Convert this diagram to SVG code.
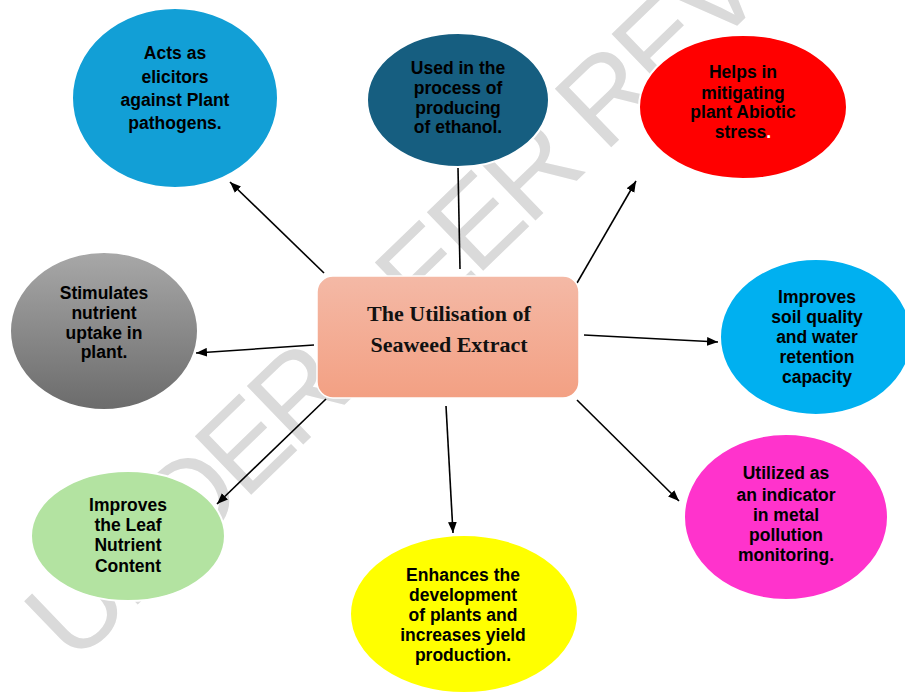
<svg xmlns="http://www.w3.org/2000/svg" width="905" height="694" viewBox="0 0 905 694">
<defs>
<linearGradient id="gBox" x1="0" y1="0" x2="0" y2="1">
<stop offset="0" stop-color="#F4B9A6"/>
<stop offset="1" stop-color="#F3A083"/>
</linearGradient>
<linearGradient id="gGray" x1="0" y1="0" x2="0" y2="1">
<stop offset="0" stop-color="#A8A8A8"/>
<stop offset="1" stop-color="#6B6B6B"/>
</linearGradient>
<marker id="arr" viewBox="0 0 10 8" refX="10" refY="4" markerWidth="11" markerHeight="9" markerUnits="userSpaceOnUse" orient="auto">
<path d="M0,0 L10,4 L0,8 z" fill="#000"/>
</marker>
</defs>
<style>
.node ellipse{stroke:#fff;stroke-width:2}
.lbl{font-family:"Liberation Sans",Arial,sans-serif;font-weight:bold;font-size:17.5px;fill:#000;text-anchor:middle}
.title{font-family:"Liberation Serif","Times New Roman",serif;font-weight:bold;font-size:22px;fill:#111;text-anchor:middle}
.wm{font-family:"Liberation Sans",Arial,sans-serif;font-size:118px;fill:#DADADA}
#connectors line{stroke:#000;stroke-width:1.6}
</style>
<rect width="905" height="694" fill="#fff"/>
<text class="wm" transform="translate(74,666) rotate(-44)" textLength="1171" lengthAdjust="spacing">UNDER PEER REVIEW</text>

<g id="connectors">
<line x1="324" y1="273" x2="230" y2="182" marker-end="url(#arr)"/>
<line x1="458" y1="168" x2="460" y2="269"/>
<line x1="577" y1="283" x2="636" y2="181" marker-end="url(#arr)"/>
<line x1="584" y1="335" x2="718" y2="342" marker-end="url(#arr)"/>
<line x1="314" y1="345" x2="196" y2="353" marker-end="url(#arr)"/>
<line x1="326" y1="399" x2="217" y2="504" marker-end="url(#arr)"/>
<line x1="446" y1="406" x2="453" y2="533" marker-end="url(#arr)"/>
<line x1="577" y1="400" x2="679" y2="501" marker-end="url(#arr)"/>
</g>

<g id="center">
<rect x="317" y="276" width="262" height="122" rx="16" fill="url(#gBox)" stroke="#fff" stroke-width="1.5"/>
<text class="title" x="449" y="321">The Utilisation of</text>
<text class="title" x="449" y="352">Seaweed Extract</text>
</g>

<g id="n-elicitors" class="node">
<ellipse cx="175" cy="98" rx="103" ry="90" fill="#129FD6"/>
<text class="lbl" x="175" y="59">Acts as</text>
<text class="lbl" x="175" y="83">elicitors</text>
<text class="lbl" x="175" y="106">against Plant</text>
<text class="lbl" x="175" y="129">pathogens.</text>
</g>

<g id="n-ethanol" class="node">
<ellipse cx="458" cy="100" rx="91" ry="67" fill="#165E80"/>
<text class="lbl" x="458" y="74">Used in the</text>
<text class="lbl" x="458" y="94">process of</text>
<text class="lbl" x="458" y="114">producing</text>
<text class="lbl" x="458" y="133">of ethanol.</text>
</g>

<g id="n-abiotic" class="node">
<ellipse cx="743" cy="107" rx="104" ry="72" fill="#FF0000"/>
<text class="lbl" x="743" y="78">Helps in</text>
<text class="lbl" x="743" y="99">mitigating</text>
<text class="lbl" x="743" y="118">plant Abiotic</text>
<text class="lbl" x="743" y="138">stress<tspan fill="#fff">.</tspan></text>
</g>

<g id="n-soil" class="node">
<ellipse cx="816" cy="337" rx="96" ry="78" fill="#00B0F0"/>
<text class="lbl" x="817" y="303">Improves</text>
<text class="lbl" x="817" y="323">soil quality</text>
<text class="lbl" x="817" y="343">and water</text>
<text class="lbl" x="817" y="363">retention</text>
<text class="lbl" x="817" y="383">capacity</text>
</g>

<g id="n-uptake" class="node">
<ellipse cx="104" cy="331" rx="94" ry="79" fill="url(#gGray)"/>
<text class="lbl" x="104" y="299">Stimulates</text>
<text class="lbl" x="104" y="319">nutrient</text>
<text class="lbl" x="104" y="339">uptake in</text>
<text class="lbl" x="104" y="358">plant.</text>
</g>

<g id="n-leaf" class="node">
<ellipse cx="128" cy="536" rx="97" ry="65" fill="#B3E3A1"/>
<text class="lbl" x="128" y="511">Improves</text>
<text class="lbl" x="128" y="531">the Leaf</text>
<text class="lbl" x="128" y="551">Nutrient</text>
<text class="lbl" x="128" y="572">Content</text>
</g>

<g id="n-yield" class="node">
<ellipse cx="464" cy="614" rx="114" ry="79" fill="#FFFF00"/>
<text class="lbl" x="463" y="581">Enhances the</text>
<text class="lbl" x="463" y="601">development</text>
<text class="lbl" x="463" y="621">of plants and</text>
<text class="lbl" x="463" y="641">increases yield</text>
<text class="lbl" x="463" y="661">production.</text>
</g>

<g id="n-metal" class="node">
<ellipse cx="786" cy="517" rx="102" ry="83" fill="#FF33CC"/>
<text class="lbl" x="786" y="479">Utilized as</text>
<text class="lbl" x="786" y="501">an indicator</text>
<text class="lbl" x="786" y="521">in metal</text>
<text class="lbl" x="786" y="541">pollution</text>
<text class="lbl" x="786" y="561">monitoring.</text>
</g>
</svg>
